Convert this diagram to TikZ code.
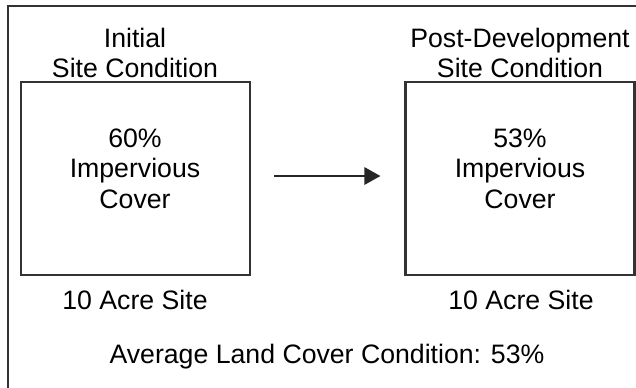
\documentclass[tikz,border=0pt]{standalone}
\usepackage{fontspec}
\setmainfont{Liberation Sans}
\usetikzlibrary{arrows.meta}
\definecolor{linegray}{HTML}{333333}
\tikzset{
  txt/.style={anchor=base, inner sep=0pt, font=\fontsize{20pt}{24pt}\selectfont, text=black},
  sitebox/.style={draw=linegray, line width=1.6pt, minimum width=171.75pt, minimum height=144.75pt, inner sep=0pt},
  frame/.style={draw=linegray, line width=1.6pt},
  arr/.style={draw=black!85, line width=1.5pt, -{Triangle[length=12pt,width=13pt]}}
}
\begin{document}
\begin{tikzpicture}[x=0.75pt,y=-0.75pt]
\useasboundingbox (0,0) rectangle (636,387);
\fill[white] (0,0) rectangle (636,387);
\draw[frame] (8,6) rectangle (645,400);
% boxes
\node[sitebox] (L) at (135.5,178.5) {};
\node[sitebox] (R) at (520,178.5) {};
% titles
\node[txt] (lt1) at (135,47) {Initial};
\node[txt] (lt2) at (135,77) {Site Condition};
\node[txt] (rt1) at (520,47) {Post-Development};
\node[txt] (rt2) at (520,77) {Site Condition};
% box contents
\node[txt] (l1) at (135,147) {60\%};
\node[txt] (l2) at (135,177) {Impervious};
\node[txt] (l3) at (135,208) {Cover};
\node[txt] (r1) at (520,147) {53\%};
\node[txt] (r2) at (520,177) {Impervious};
\node[txt] (r3) at (520,208) {Cover};
% below
\node[txt] (ls) at (135,309) {10 Acre Site};
\node[txt] (rs) at (521,309) {10 Acre Site};
\node[txt] (avg) at (327,363) {Average Land Cover Condition: 53\%};
% arrow
\draw[arr, shorten <=17.25pt, shorten >=18pt] (L.east |- 0,176) -- (R.west |- 0,176);
\end{tikzpicture}
\end{document}
